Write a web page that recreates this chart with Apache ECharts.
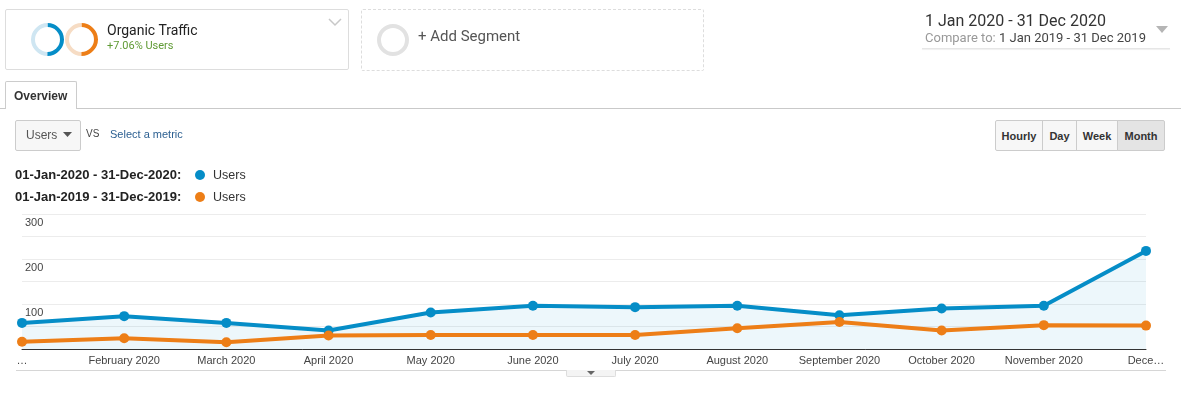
<!DOCTYPE html>
<html>
<head>
<meta charset="utf-8">
<script src="https://cdn.jsdelivr.net/npm/echarts@6/dist/echarts.min.js"></script>
<style>
  html, body { margin: 0; padding: 0; background: #fff; }
  body { width: 1181px; height: 393px; position: relative; overflow: hidden; font-family: Roboto, "Liberation Sans", Arial, sans-serif; }
  .abs { position: absolute; white-space: nowrap; }
  #chart { position: absolute; left: 0; top: 0; width: 1181px; height: 393px; }
  .ring { position: absolute; box-sizing: border-box; border-radius: 50%; border-style: solid; border-width: 4px; transform: rotate(45deg); }
  .btn { position: absolute; top: 120px; height: 31px; box-sizing: border-box; border: 1px solid #ccc; background: #f7f7f7; font: bold 11px "Liberation Sans", Arial, sans-serif; color: #333; display: flex; align-items: center; justify-content: center; }
  .lg { font: bold 13px "Liberation Sans", Arial, sans-serif; color: #222; }
  .lu { font: 12.5px "Liberation Sans", Arial, sans-serif; color: #333; }
  .dot { position: absolute; width: 10px; height: 10px; border-radius: 50%; }
</style>
</head>
<body>
<div id="chart"></div>

<!-- segment box 1 -->
<div class="abs" style="left:5px;top:9px;width:344px;height:61px;box-sizing:border-box;border:1px solid #ddd;border-radius:2px;"></div>
<div class="ring" style="left:31px;top:23px;width:33px;height:33px;border-color:#058dc7 #058dc7 #cfe6f2 #cfe6f2;"></div>
<div class="ring" style="left:65px;top:23px;width:33px;height:33px;border-color:#ed7e17 #ed7e17 #f6dcc4 #f6dcc4;"></div>
<div class="abs" style="left:107px;top:22px;font-size:14px;color:#222;">Organic Traffic</div>
<div class="abs" style="left:107px;top:39px;font-size:11px;color:#5f9a34;">+7.06% Users</div>
<svg class="abs" style="left:328px;top:18px;" width="14" height="9"><polyline points="1,1 7,7 13,1" fill="none" stroke="#c8c8c8" stroke-width="1.5"/></svg>

<!-- add segment -->
<div class="abs" style="left:361px;top:9px;width:343px;height:62px;box-sizing:border-box;border:1px dashed #ddd;border-radius:2px;"></div>
<div class="abs" style="left:377px;top:24px;width:32px;height:32px;box-sizing:border-box;border:4px solid #e2e2e2;border-radius:50%;"></div>
<div class="abs" style="left:418px;top:27px;font-size:15px;color:#555;">+ Add Segment</div>

<!-- date range -->
<div class="abs" style="left:925px;top:11px;font-size:16px;color:#333;">1 Jan 2020 - 31 Dec 2020</div>
<div class="abs" style="left:925px;top:30px;font-size:13px;color:#444;"><span style="color:#999;">Compare to:</span> 1 Jan 2019 - 31 Dec 2019</div>
<svg class="abs" style="left:1156px;top:26px;" width="12" height="8"><polygon points="0,0 12,0 6,7" fill="#b5b5b5"/></svg>
<div class="abs" style="left:922px;top:48px;width:248px;height:1px;background:#e6e6e6;box-shadow:0 1px 1px #eee;"></div>

<!-- tab -->
<div class="abs" style="left:0;top:108px;width:1181px;height:1px;background:#c9c9c9;"></div>
<div class="abs" style="left:5px;top:81px;width:72px;height:28px;box-sizing:border-box;border:1px solid #ccc;border-bottom:none;background:#fff;border-radius:2px 2px 0 0;"></div>
<div class="abs" style="left:14px;top:89px;font:bold 12px 'Liberation Sans',Arial,sans-serif;color:#333;">Overview</div>

<!-- metric selector -->
<div class="abs" style="left:15px;top:120px;width:66px;height:31px;box-sizing:border-box;border:1px solid #ccc;background:#f7f7f7;border-radius:2px;"></div>
<div class="abs" style="left:26px;top:128px;font:12px 'Liberation Sans',Arial,sans-serif;color:#555;">Users</div>
<svg class="abs" style="left:63px;top:132px;" width="9" height="5"><polygon points="0,0 9,0 4.5,5" fill="#555"/></svg>
<div class="abs" style="left:86px;top:128px;font:10px 'Liberation Sans',Arial,sans-serif;color:#444;">VS</div>
<div class="abs" style="left:110px;top:128px;font:11px 'Liberation Sans',Arial,sans-serif;color:#2b5f91;">Select a metric</div>

<!-- granularity buttons -->
<div class="btn" style="left:995px;width:48px;border-radius:2px 0 0 2px;">Hourly</div>
<div class="btn" style="left:1042px;width:35px;">Day</div>
<div class="btn" style="left:1076px;width:42px;">Week</div>
<div class="btn" style="left:1117px;width:48px;background:#e4e4e4;border-radius:0 2px 2px 0;">Month</div>

<!-- legend -->
<div class="abs lg" style="left:15px;top:167px;">01-Jan-2020 - 31-Dec-2020:</div>
<div class="dot" style="left:195px;top:170px;background:#058dc7;"></div>
<div class="abs lu" style="left:213px;top:168px;">Users</div>
<div class="abs lg" style="left:15px;top:189px;">01-Jan-2019 - 31-Dec-2019:</div>
<div class="dot" style="left:195px;top:192px;background:#ed7e17;"></div>
<div class="abs lu" style="left:213px;top:190px;">Users</div>

<!-- bottom -->
<div class="abs" style="left:16px;top:370px;width:1150px;height:1px;background:#d6d6d6;"></div>
<div class="abs" style="left:566px;top:370px;width:50px;height:7px;box-sizing:border-box;border:1px solid #ddd;border-top:none;background:#f4f4f4;border-radius:0 0 2px 2px;"></div>
<svg class="abs" style="left:587px;top:371px;" width="8" height="4"><polygon points="0,0 8,0 4,4" fill="#666"/></svg>

<script>
var categories = ['…', 'February 2020', 'March 2020', 'April 2020', 'May 2020', 'June 2020', 'July 2020', 'August 2020', 'September 2020', 'October 2020', 'November 2020', 'Dece…'];
var users2020 = [58, 73, 58, 41, 81, 96, 93, 96, 75, 90, 96, 218];
var users2019 = [16, 24, 15, 30, 31, 31, 31, 46, 60, 41, 53, 52];
var yTickLabels = [100, 200, 300];

var chart = echarts.init(document.getElementById('chart'), null, { renderer: 'canvas' });
chart.setOption({
  animation: false,
  grid: { left: 22, right: 35, top: 214, bottom: 44, containLabel: false },
  xAxis: {
    type: 'category',
    data: categories,
    boundaryGap: false,
    axisLine: { lineStyle: { color: '#333', width: 1 } },
    axisTick: { show: false },
    splitLine: { show: false },
    axisLabel: { interval: 0, color: '#444', fontSize: 11, fontFamily: 'Liberation Sans, Arial, sans-serif', margin: 6 }
  },
  yAxis: {
    type: 'value',
    min: 0, max: 300, interval: 50,
    axisLine: { show: false },
    axisTick: { show: false },
    splitLine: { lineStyle: { color: '#ececec', width: 1 } },
    axisLabel: {
      inside: true, margin: 3, verticalAlign: 'top', padding: [3, 0, 0, 0],
      color: '#444', fontSize: 11, fontFamily: 'Liberation Sans, Arial, sans-serif',
      formatter: function (v) { return yTickLabels.indexOf(v) >= 0 ? String(v) : ''; }
    }
  },
  series: [
    {
      name: '2020', type: 'line', data: users2020,
      symbol: 'circle', symbolSize: 10, showSymbol: true,
      lineStyle: { color: '#058dc7', width: 4 },
      itemStyle: { color: '#058dc7' },
      areaStyle: { color: 'rgba(5,141,199,0.10)' },
      z: 2
    },
    {
      name: '2019', type: 'line', data: users2019,
      symbol: 'circle', symbolSize: 10, showSymbol: true,
      lineStyle: { color: '#ed7e17', width: 4 },
      itemStyle: { color: '#ed7e17' },
      z: 3
    }
  ]
});
</script>
</body>
</html>
